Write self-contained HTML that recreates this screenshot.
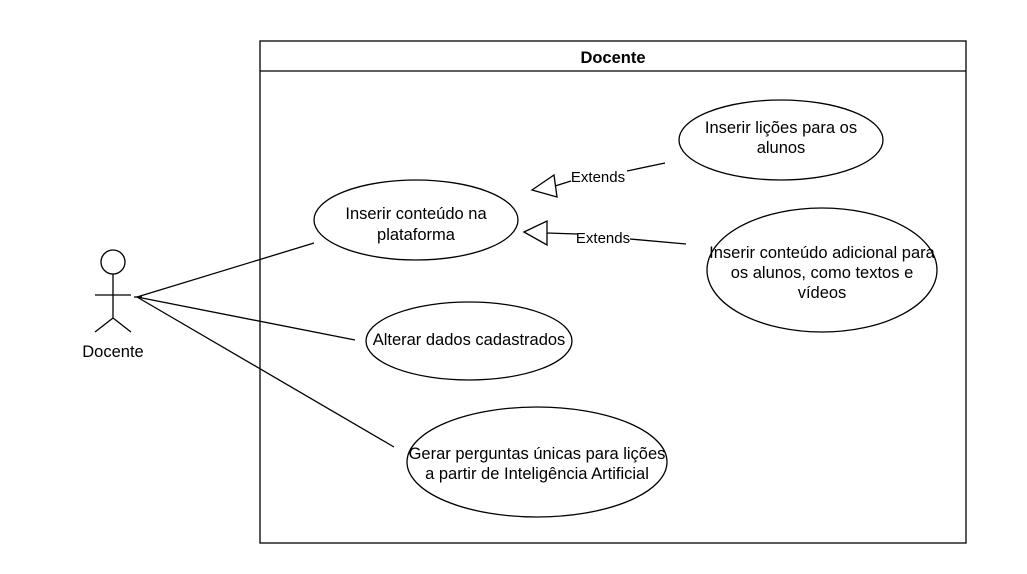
<!DOCTYPE html>
<html><head><meta charset="utf-8"><style>
html,body{margin:0;padding:0;background:#fff;}
svg{display:block;}
text{font-family:"Liberation Sans",sans-serif;font-size:16.5px;fill:#000;}
</style></head><body>
<svg width="1027" height="574" viewBox="0 0 1027 574" xmlns="http://www.w3.org/2000/svg">
<rect width="1027" height="574" fill="#fff"/>
<g fill="none" stroke="#000" stroke-width="1.3">
<rect x="260" y="41" width="706" height="502"/>
<line x1="260" y1="71" x2="966" y2="71"/>
<ellipse cx="416" cy="220" rx="102" ry="40"/>
<ellipse cx="781" cy="140" rx="102" ry="40"/>
<ellipse cx="822" cy="270" rx="115" ry="62"/>
<ellipse cx="469" cy="341" rx="103" ry="39"/>
<ellipse cx="537" cy="462" rx="130" ry="55"/>
<circle cx="113" cy="262" r="12"/>
<line x1="113" y1="274" x2="113" y2="318"/>
<line x1="95" y1="295" x2="131" y2="295"/>
<line x1="113" y1="318" x2="95" y2="332"/>
<line x1="113" y1="318" x2="131" y2="332"/>
<line x1="134" y1="297" x2="142" y2="297"/>
<line x1="137" y1="297" x2="314" y2="243"/>
<line x1="137" y1="297" x2="355" y2="340"/>
<line x1="137" y1="297" x2="394" y2="447"/>
<line x1="665" y1="163" x2="627" y2="171"/>
<line x1="571" y1="181" x2="555" y2="186"/>
<polygon points="532,190 554,175 557,197"/>
<line x1="547" y1="233" x2="577" y2="234"/>
<line x1="630" y1="239" x2="686" y2="244"/>
<polygon points="524,232 547,221 547,245"/>
</g>
<text x="613" y="63" text-anchor="middle" font-weight="bold">Docente</text>
<text x="113" y="357" text-anchor="middle">Docente</text>
<text x="598" y="182" text-anchor="middle" style="font-size:15px">Extends</text>
<text x="603" y="243" text-anchor="middle" style="font-size:15px">Extends</text>
<text x="416" y="219" text-anchor="middle">Inserir conteúdo na</text>
<text x="416" y="240" text-anchor="middle">plataforma</text>
<text x="781" y="133" text-anchor="middle">Inserir lições para os</text>
<text x="781" y="153" text-anchor="middle">alunos</text>
<text x="822" y="258" text-anchor="middle">Inserir conteúdo adicional para</text>
<text x="822" y="278" text-anchor="middle">os alunos, como textos e</text>
<text x="822" y="298" text-anchor="middle">vídeos</text>
<text x="469" y="345" text-anchor="middle">Alterar dados cadastrados</text>
<text x="537" y="459" text-anchor="middle">Gerar perguntas únicas para lições</text>
<text x="537" y="479" text-anchor="middle">a partir de Inteligência Artificial</text>
</svg>
</body></html>
